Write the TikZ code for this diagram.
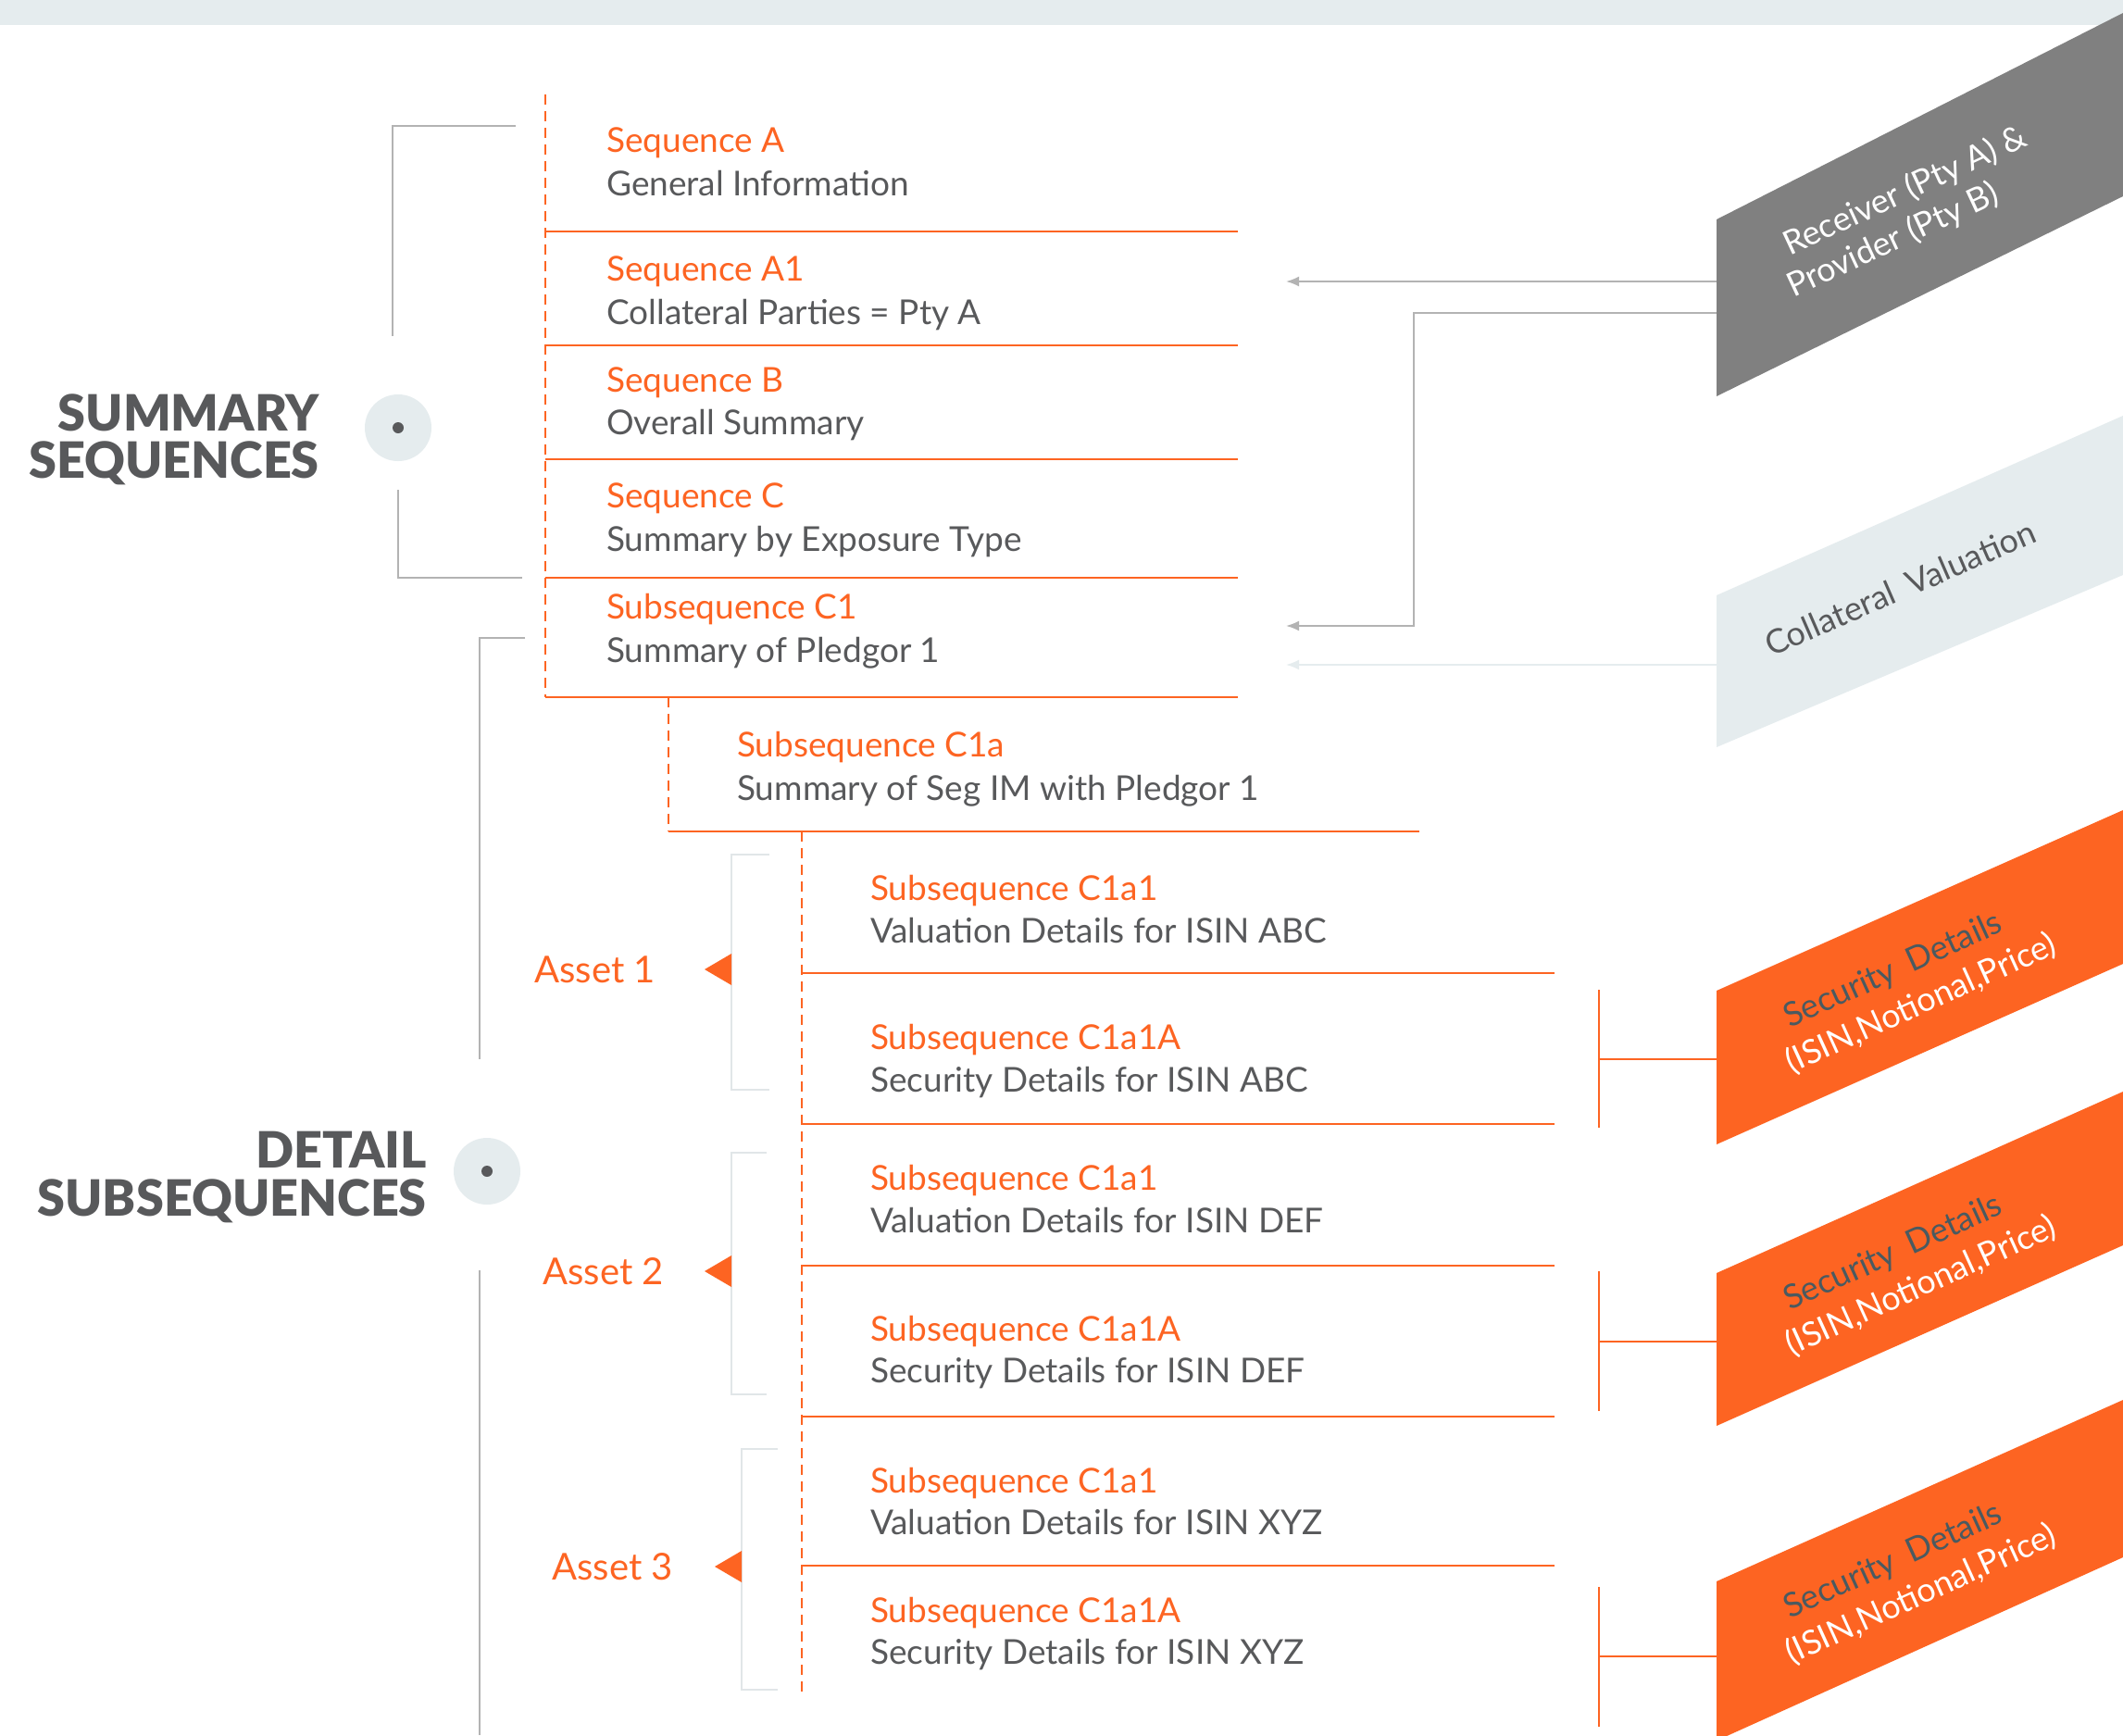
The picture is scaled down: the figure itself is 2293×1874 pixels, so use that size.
\documentclass[tikz,border=0pt]{standalone}
\usepackage{fontspec}
\setmainfont{Lato}
\IfFontExistsTF{Lato Black}{\newfontfamily\headfont{Lato Black}}{\newfontfamily\headfont{Lato}[UprightFont=*-Bold]}
\usetikzlibrary{arrows.meta}
\definecolor{orng}{HTML}{FD6422}
\definecolor{dtxt}{HTML}{58595B}
\definecolor{lgrey}{HTML}{B3B3B3}
\definecolor{pale}{HTML}{E5ECEE}
\definecolor{shgrey}{HTML}{808080}
\definecolor{brk}{HTML}{E1E6E8}
\definecolor{sdtxt}{HTML}{4A5A60}
\begin{document}
\begin{tikzpicture}[x=1pt,y=-1pt,
  ttl/.style={anchor=base west,inner sep=0pt,text=orng,font=\fontsize{37}{42}\selectfont},
  dsc/.style={anchor=base west,inner sep=0pt,text=dtxt,font=\fontsize{37}{42}\selectfont},
  big/.style={anchor=base east,inner sep=0pt,text=dtxt,font=\fontsize{54}{60}\headfont},
  asset/.style={anchor=base east,inner sep=0pt,text=orng,font=\fontsize{40}{44}\selectfont},
  diag/.style={anchor=base west,inner sep=0pt,font=\fontsize{36}{40}\selectfont},
  sepline/.style={orng,line width=2.5pt},
  dashv/.style={orng,line width=2.5pt,dash pattern=on 11pt off 7pt},
  gbrk/.style={lgrey,line width=2pt},
  abrk/.style={brk,line width=2.5pt},
  garrow/.style={lgrey,line width=2pt,-{Latex[length=14pt,width=11pt]}},
  parrow/.style={pale,line width=2pt,-{Latex[length=14pt,width=11pt]}},
  olink/.style={orng,line width=2pt},
  hub/.style={circle,fill=pale,minimum size=72pt,inner sep=0pt},
]
\useasboundingbox[fill=white] (0,0) rectangle (2293,1874);
% top band
\fill[pale] (0,0) rectangle (2293,27);

% right shapes
\fill[shgrey] (1854,237) -- (2293,14) -- (2293,212) -- (1854,428) -- cycle;
\fill[pale] (1854,643) -- (2293,449) -- (2293,621) -- (1854,807) -- cycle;
\fill[orng] (1854,1070) -- (2293,875) -- (2293,1041) -- (1854,1236) -- cycle;
\fill[orng] (1854,1375) -- (2293,1179) -- (2293,1345) -- (1854,1540) -- cycle;
\fill[orng] (1854,1708) -- (2293,1512) -- (2293,1682) -- (1854,1880) -- cycle;

\node[diag,rotate=25,text=white] (rcv) at (1933,277) {Receiver (Pty A) \&};
\node[diag,rotate=25,text=white] (prv) at (1937,322) {Provider (Pty B)};
\node[diag,rotate=23.5,text=dtxt] (colv) at (1913,710) {Collateral\hspace{0.45em}Valuation};
\node[diag,rotate=24.5,text=sdtxt] (sd1) at (1933,1111) {Security\hspace{0.45em}Details};
\node[diag,rotate=24.5,text=white] (is1) at (1935,1160) {(ISIN,Notional,Price)};
\node[diag,rotate=24.5,text=sdtxt] (sd2) at (1933,1416) {Security\hspace{0.45em}Details};
\node[diag,rotate=24.5,text=white] (is2) at (1935,1465) {(ISIN,Notional,Price)};
\node[diag,rotate=24.5,text=sdtxt] (sd3) at (1933,1749) {Security\hspace{0.45em}Details};
\node[diag,rotate=24.5,text=white] (is3) at (1935,1798) {(ISIN,Notional,Price)};

% left headings
\node[big] (sum1) at (345,465) {SUMMARY};
\node[big] (sum2) at (345,516) {SEQUENCES};
\node[big] (det1) at (461,1261) {DETAIL};
\node[big] (det2) at (461,1313) {SUBSEQUENCES};
\node[hub] (hub1) at (430,462) {};
\fill[dtxt] (hub1.center) circle (6pt);
\node[hub] (hub2) at (526,1265) {};
\fill[dtxt] (hub2.center) circle (6pt);

% grey brackets
\draw[gbrk] (557,136) -- (424,136) -- (424,363);
\draw[gbrk] (430,529) -- (430,624) -- (564,624);
\draw[gbrk] (567,689) -- (518,689) -- (518,1144);
\draw[gbrk] (518,1372) -- (518,1874);

% top block
\draw[dashv] (589,102) -- (589,753);
\foreach \yy in {250,373,496,624,753} \draw[sepline] (589,\yy) -- (1337,\yy);
\node[ttl] (sA) at (655,164) {Sequence A};
\node[dsc] (dA) at (655,211) {General Information};
\node[ttl] (sA1) at (655,303) {Sequence A1};
\node[dsc] (dA1) at (655,350) {Collateral Parties = Pty A};
\node[ttl] (sB) at (655,423) {Sequence B};
\node[dsc] (dB) at (655,469) {Overall Summary};
\node[ttl] (sC) at (655,548) {Sequence C};
\node[dsc] (dC) at (655,595) {Summary by Exposure Type};
\node[ttl] (sC1) at (655,668) {Subsequence C1};
\node[dsc] (dC1) at (655,715) {Summary of Pledgor 1};

% C1a block
\draw[dashv] (722,753) -- (722,898);
\draw[sepline] (722,898) -- (1533,898);
\node[ttl] (sC1a) at (796,817) {Subsequence C1a};
\node[dsc] (dC1a) at (796,864) {Summary of Seg IM with Pledgor 1};

% detail block
\draw[dashv] (866,898) -- (866,1834);
\foreach \yy in {1051,1214,1367,1530,1691} \draw[sepline] (866,\yy) -- (1679,\yy);
\node[ttl] (t1) at (940,972) {Subsequence C1a1};
\node[dsc] (d1) at (940,1018) {Valuation Details for ISIN ABC};
\node[ttl] (t2) at (940,1133) {Subsequence C1a1A};
\node[dsc] (d2) at (940,1179) {Security Details for ISIN ABC};
\node[ttl] (t3) at (940,1285) {Subsequence C1a1};
\node[dsc] (d3) at (940,1331) {Valuation Details for ISIN DEF};
\node[ttl] (t4) at (940,1448) {Subsequence C1a1A};
\node[dsc] (d4) at (940,1493) {Security Details for ISIN DEF};
\node[ttl] (t5) at (940,1612) {Subsequence C1a1};
\node[dsc] (d5) at (940,1657) {Valuation Details for ISIN XYZ};
\node[ttl] (t6) at (940,1752) {Subsequence C1a1A};
\node[dsc] (d6) at (940,1797) {Security Details for ISIN XYZ};

% asset brackets
\draw[abrk] (831,923) -- (790,923) -- (790,1177) -- (831,1177);
\draw[abrk] (828,1245) -- (790,1245) -- (790,1506) -- (828,1506);
\draw[abrk] (840,1565) -- (801,1565) -- (801,1825) -- (840,1825);
\fill[orng] (761,1047) -- (790,1030) -- (790,1064) -- cycle;
\fill[orng] (761,1373) -- (790,1356) -- (790,1390) -- cycle;
\fill[orng] (772,1692) -- (801,1675) -- (801,1709) -- cycle;
\node[asset] (a1) at (708,1061) {Asset 1};
\node[asset] (a2) at (717,1387) {Asset 2};
\node[asset] (a3) at (727,1706) {Asset 3};

% grey connectors
\coordinate (g1) at (1854,304);
\coordinate (g1t) at (1389,304);
\draw[garrow] (g1) -- (g1t);
\coordinate (g2) at (1854,338);
\coordinate (g2t) at (1389,676);
\draw[garrow] (g2) -| (1527,676) -- (g2t);
\coordinate (cv) at (1854,718);
\coordinate (cvt) at (1389,718);
\draw[parrow] (cv) -- (cvt);

% orange connectors
\foreach \ya/\yb/\ym in {1069/1218/1144,1373/1524/1449,1714/1865/1789}{
  \draw[olink] (1727,\ya) -- (1727,\yb);
  \draw[olink] (1727,\ym) -- (1854,\ym);
}
\end{tikzpicture}
\end{document}
